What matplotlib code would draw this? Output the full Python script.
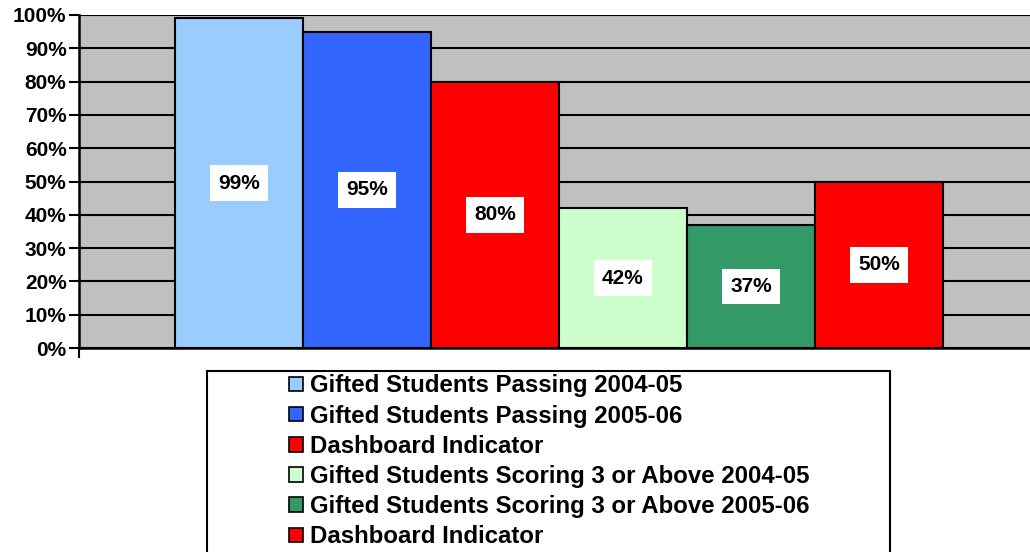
"""
Gifted students passing / scoring rates vs dashboard indicators.
"""

import matplotlib.pyplot as plt
from matplotlib.patches import Patch, Rectangle

plt.rcParams["font.family"] = ["Liberation Sans", "DejaVu Sans"]
plt.rcParams["font.weight"] = "bold"

series_labels = [
    "Gifted Students Passing 2004-05",
    "Gifted Students Passing 2005-06",
    "Dashboard Indicator",
    "Gifted Students Scoring 3 or Above 2004-05",
    "Gifted Students Scoring 3 or Above 2005-06",
    "Dashboard Indicator",
]
values = [99, 95, 80, 42, 37, 50]
colors = ["#99CCFF", "#3366FF", "#FF0000", "#CCFFCC", "#339966", "#FF0000"]
yticks = [0, 10, 20, 30, 40, 50, 60, 70, 80, 90, 100]

W, H = 1030, 552
fig = plt.figure(figsize=(W / 100, H / 100), dpi=100)

# plot area runs a little past the right edge of the picture
ax = fig.add_axes([79 / W, 1 - 348 / H, 960 / W, 333 / H])
ax.set_facecolor("#C0C0C0")

x = list(range(len(values)))
ax.bar(x, values, width=1.0, color=colors, edgecolor="black", linewidth=1.5, zorder=3)

for xi, v in zip(x, values):
    ax.text(xi, v / 2, f"{v}%", ha="center", va="center", fontsize=15,
            fontweight="bold", zorder=4,
            bbox=dict(boxstyle="square,pad=0.4", fc="white", ec="none"))

ax.set_xlim(-1.25, 6.25)
ax.set_ylim(0, 100)
ax.set_yticks(yticks)
ax.set_yticklabels([f"{t}%" for t in yticks])
ax.set_xticks([-1.25])
ax.set_xticklabels([""])
ax.tick_params(axis="y", length=7, width=1.5, labelsize=15, pad=2)
ax.tick_params(axis="x", length=7, width=1.5)
ax.yaxis.grid(True, color="black", linewidth=1.5, zorder=1)
ax.set_axisbelow(True)
for side in ["top", "right"]:
    ax.spines[side].set_visible(False)
for side in ["left", "bottom"]:
    ax.spines[side].set_linewidth(1.8)
    ax.spines[side].set_zorder(5)

# legend box, cut off at the bottom of the picture
fig.patches.append(Rectangle((207 / W, -0.05), 683 / W, 1 - 371 / H + 0.05,
                             transform=fig.transFigure, fc="white", ec="black",
                             lw=1.5, zorder=0))
handles = [Patch(facecolor=c, edgecolor="black", linewidth=1.2) for c in colors]
fig.legend(handles, series_labels, loc="upper left",
           bbox_to_anchor=(287 / W, 1 - 372 / H), frameon=False,
           prop={"weight": "bold", "size": 17.3},
           handlelength=0.55, handleheight=0.55, handletextpad=0.3,
           labelspacing=0.3, borderaxespad=0, borderpad=0.1)

fig.savefig("out.png", dpi=100)
